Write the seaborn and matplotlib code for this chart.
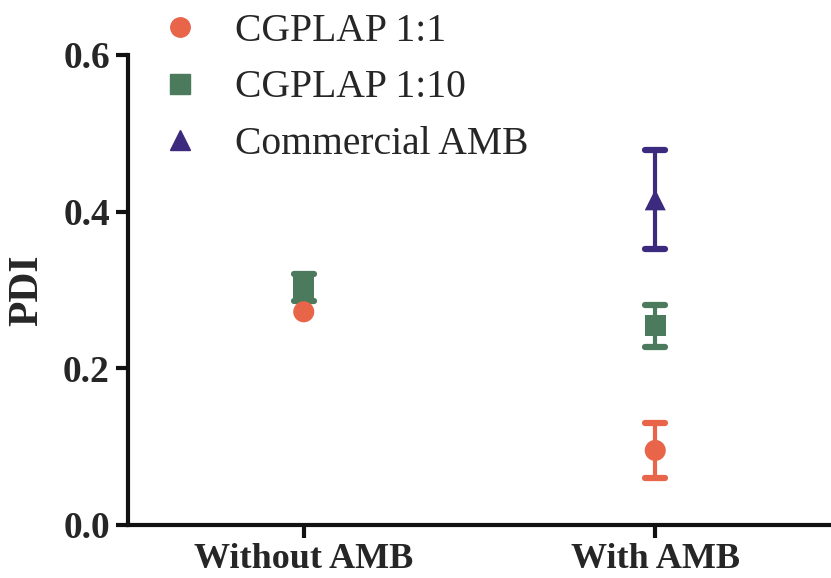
import matplotlib
matplotlib.use("Agg")
import matplotlib.pyplot as plt
from matplotlib.markers import MarkerStyle
from matplotlib.lines import Line2D
import seaborn as sns
import pandas as pd

# Mean PDI and error for each formulation
groups = ["Without AMB", "With AMB"]
series = ["CGPLAP 1:1", "CGPLAP 1:10", "Commercial AMB"]
pdi_11 = [0.272, 0.095]
err_11 = [0.0, 0.035]
pdi_110 = [0.303, 0.254]
err_110 = [0.017, 0.027]
pdi_comm = [None, 0.415]
err_comm = [None, 0.063]

colors = {"CGPLAP 1:1": "#E8654A", "CGPLAP 1:10": "#4C7A5C", "Commercial AMB": "#3B2A7E"}
markers = {"CGPLAP 1:1": "o", "CGPLAP 1:10": "s", "Commercial AMB": "^"}

rows = []
for s, vals, errs in [("CGPLAP 1:1", pdi_11, err_11),
                      ("CGPLAP 1:10", pdi_110, err_110),
                      ("Commercial AMB", pdi_comm, err_comm)]:
    for g, v, e in zip(groups, vals, errs):
        if v is not None:
            rows.append({"group": g, "series": s, "PDI": v, "err": e})
df = pd.DataFrame(rows)
df["x"] = df["group"].map(groups.index)

sns.set_style("ticks")
plt.rcParams["font.family"] = ["Liberation Serif", "DejaVu Serif"]

fig = plt.figure(figsize=(8.31, 5.78), dpi=100)
ax = fig.add_axes([0.154, 0.092, 0.846, 0.813])

# error bars first so markers sit on top; zero-width errors are not drawn
round_cap = MarkerStyle("_", capstyle="round")
for s in series:
    sub = df[(df["series"] == s) & (df["err"] > 0)]
    if sub.empty:
        continue
    _, caps, bars = ax.errorbar(sub["x"], sub["PDI"], yerr=sub["err"], fmt="none",
                                ecolor=colors[s], elinewidth=3, capsize=7.5,
                                capthick=4.5, zorder=2)
    for c in caps:
        c.set_marker(round_cap)

sns.scatterplot(data=df, x="x", y="PDI", hue="series", style="series",
                hue_order=series, style_order=series,
                palette=colors, markers=markers, s=230, edgecolor="none",
                ax=ax, zorder=3, legend=False)

ax.set_xlim(-0.5, 1.5)
ax.set_ylim(0, 0.6)
ax.set_xticks([0, 1])
ax.set_xticklabels(groups, fontsize=26, fontweight="bold")
ax.set_yticks([0.0, 0.2, 0.4, 0.6])
ax.set_yticklabels(["0.0", "0.2", "0.4", "0.6"], fontsize=27, fontweight="bold")
ax.set_xlabel("")
ax.set_ylabel("PDI", fontsize=30, fontweight="bold", labelpad=12)
sns.despine(ax=ax)
for sp in ["left", "bottom"]:
    ax.spines[sp].set_linewidth(3)
    ax.spines[sp].set_color("#111111")
ax.tick_params(width=3, length=9, color="#111111", pad=4)

handles = [Line2D([], [], linestyle="none", marker=markers[s], color=colors[s],
                  markersize=14) for s in series]
fig.legend(handles, series, loc="upper left", bbox_to_anchor=(0.150, 1.039),
           frameon=False, fontsize=28.5, labelspacing=0.49, handletextpad=0.9,
           handlelength=1.0)

fig.savefig("out.png", dpi=100)
